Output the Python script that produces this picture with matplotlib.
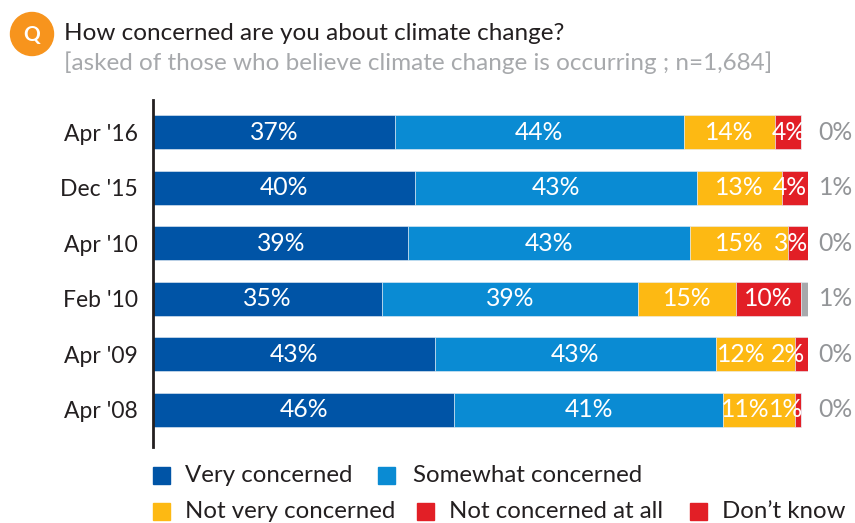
import matplotlib
matplotlib.use("Agg")
import matplotlib.pyplot as plt
from matplotlib.patches import Ellipse, Rectangle
import numpy as np

plt.rcParams['font.family'] = ['Lato', 'DejaVu Sans']

categories = ["Apr '16", "Dec '15", "Apr '10", "Feb '10", "Apr '09", "Apr '08"]
series_names = ["Very concerned", "Somewhat concerned", "Not very concerned",
                "Not concerned at all", "Don\u2019t know"]
very = [37, 40, 39, 35, 43, 46]
somewhat = [44, 43, 43, 39, 43, 41]
not_very = [14, 13, 15, 15, 12, 11]
not_at_all = [4, 4, 3, 10, 2, 1]
dont_know = [0, 1, 0, 1, 0, 0]
series = [very, somewhat, not_very, not_at_all, dont_know]

colors = ["#0054A6", "#0A8BD3", "#FDB913", "#E21F26", "#A7A9AC"]
legend_colors = ["#0054A6", "#0A8BD3", "#FDB913", "#E21F26", "#E21F26"]

# horizontal nudges (pixels) for crowded in-bar labels, per series / row
label_shift_px = [
    [0, 0, 0, 0, 0, 0],
    [0, 0, 0, 0, 0, 0],
    [0, 0, 0, 0, -14, -14],
    [0, -5, -7, 0, -13, -12],
]

W, H = 855, 523
fig = plt.figure(figsize=(W / 100, H / 100), dpi=100)

def fx(px):
    return px / W

def fy(py):
    return 1 - py / H

X0, X100 = 153, 808
ax = fig.add_axes([fx(X0), fy(447), fx(X100) - fx(X0), fy(100) - fy(447)])
ax.set_xlim(0, 100)
ax.set_ylim(5 + 0.67, -0.58)
px_per_unit = (X100 - X0) / 100.0

y = np.arange(len(categories))
left = np.zeros(len(categories))
for vals, col in zip(series, colors):
    ax.barh(y, vals, left=left, height=0.61, color=col,
            edgecolor="#E8EEF5", linewidth=0.4)
    left += np.array(vals)

# inside labels
left = np.zeros(len(categories))
for si, vals in enumerate(series[:4]):
    for i, v in enumerate(vals):
        cx = left[i] + v / 2 + label_shift_px[si][i] / px_per_unit
        ax.text(cx, y[i], f"{v}%", ha="center", va="center",
                color="white", fontsize=17.8)
    left += np.array(vals)

# don't know labels to the right
for i, v in enumerate(dont_know):
    ax.text(101.6, y[i], f"{v}%", ha="left", va="center",
            color="#939598", fontsize=17.8, clip_on=False)

for s in ["top", "right", "bottom"]:
    ax.spines[s].set_visible(False)
ax.spines["left"].set_linewidth(2)
ax.spines["left"].set_color("#231F20")
ax.set_xticks([])
ax.set_yticks(y)
ax.set_yticklabels(categories, fontsize=16.5, color="#231F20")
ax.tick_params(axis="y", length=0, pad=11)

# title with Q icon
fig.patches.append(Ellipse((fx(32), fy(34)), width=fx(43), height=43 / H,
                           transform=fig.transFigure, color="#F7941D", zorder=3))
fig.text(fx(32), fy(35), "Q", ha="center", va="center", color="white",
         fontsize=15, fontweight="bold")
fig.text(fx(64), fy(34), "How concerned are you about climate change?",
         ha="left", va="center", fontsize=17.5, color="#231F20")
fig.text(fx(64), fy(63), "[asked of those who believe climate change is occurring ; n=1,684]",
         ha="left", va="center", fontsize=17.5, color="#A7A9AC")

# legend
legend_pos = [(153, 185, 475), (378, 413, 475), (153, 185, 511), (417, 449, 511), (690, 722, 511)]
for (sx, tx, ly), name, col in zip(legend_pos, series_names, legend_colors):
    fig.patches.append(Rectangle((fx(sx), fy(ly + 9)), fx(17), 17 / H,
                                 transform=fig.transFigure, color=col))
    fig.text(fx(tx), fy(ly), name, ha="left", va="center", fontsize=17.3,
             color="#231F20")

fig.savefig("out.png", dpi=100)
